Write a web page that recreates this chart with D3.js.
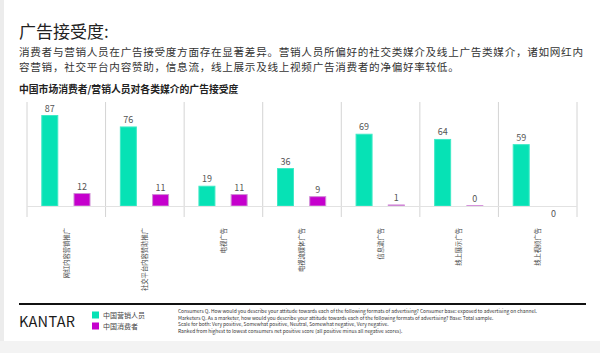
<!DOCTYPE html>
<html>
	<head>
		<meta charset="utf-8">
		<title>广告接受度</title>
		<style>
			body, html {
				margin: 0;
				padding: 0;
				background: #fff;
			}
			text {
				font-family: "Noto Sans CJK SC", "Liberation Sans", sans-serif;
			}
		</style>
	</head>
	<body>

		<svg id="svg" width="600" height="353"></svg>

		<script src="https://d3js.org/d3.v7.min.js"></script>
		<script>
			// Data
			const categories = ['网红内容营销推广', '社交平台内容赞助推广', '电视广告', '电视流媒体广告', '信息流广告', '线上展示广告', '线上视频广告']
			const seriesNames = ['中国营销人员', '中国消费者']
			const marketers = [87, 76, 19, 36, 69, 64, 59]
			const consumers = [12, 11, 11, 9, 1, 0.3, -0.3]
			const footnotes = [
				'Consumers Q. How would you describe your attitude towards each of the following formats of advertising? Consumer base: exposed to advertising on channel.',
				'Marketers Q. As a marketer, how would you describe your attitude towards each of the following formats of advertising? Base: Total sample.',
				'Scale for both: Very positive, Somewhat positive, Neutral, Somewhat negative, Very negative.',
				'Ranked from highest to lowest consumers net positive score (all positive minus all negative scores).'
			]

			const colors = ['#06e2b5', '#c500cd']
			const svg = d3.select('#svg')

			// light page edges
			svg.append('rect').attr('x', 0).attr('y', 0).attr('width', 4).attr('height', 353).attr('fill', '#ececec')
			svg.append('rect').attr('x', 0).attr('y', 341).attr('width', 600).attr('height', 12).attr('fill', '#f3f3f3')

			// Headings
			svg.append('text')
				.attr('x', 19).attr('y', 38)
				.attr('font-size', 17).attr('fill', '#222')
				.text('广告接受度:')

			// intro paragraph, two lines
			const intro = ['消费者与营销人员在广告接受度方面存在显著差异。营销人员所偏好的社交类媒介及线上广告类媒介，诸如网红内',
				'容营销，社交平台内容赞助，信息流，线上展示及线上视频广告消费者的净偏好率较低。']
			svg.append('text')
				.attr('font-size', 10.6).attr('letter-spacing', 0.7).attr('fill', '#333')
				.selectAll('tspan')
				.data(intro)
				.enter()
				.append('tspan')
				.attr('x', 19)
				.attr('y', (d, i) => 55.5 + i * 15.4)
				.text(d => d)

			svg.append('text')
				.attr('x', 19).attr('y', 93)
				.attr('font-size', 9.8).attr('font-weight', 'bold').attr('fill', '#222')
				.text('中国市场消费者/营销人员对各类媒介的广告接受度')

			// Scales
			const x = d3.scaleBand().domain(categories).range([27, 577])
			const bw = x.bandwidth()
			const xs = d3.scalePoint().domain(seriesNames).range([bw * 0.29, bw * 0.70])
			const y = d3.scaleLinear().domain([0, 100]).range([206, 102])
			const barW = 16

			// separators between categories
			const edges = categories.map(c => x(c)).concat([x(categories[categories.length - 1]) + bw])
			svg.append('g')
				.selectAll('line')
				.data(edges)
				.enter()
				.append('line')
				.attr('x1', d => d).attr('x2', d => d)
				.attr('y1', y(100)).attr('y2', y(0) + 11)
				.attr('stroke', '#d4d4d4').attr('stroke-width', 1)

			// bars
			const rows = []
			categories.forEach((c, i) => {
				rows.push({ cat: c, s: seriesNames[0], v: marketers[i], k: 0 })
				rows.push({ cat: c, s: seriesNames[1], v: consumers[i], k: 1 })
			})

			const bars = svg.append('g')
			bars.selectAll('rect')
				.data(rows)
				.enter()
				.append('rect')
				.attr('x', d => x(d.cat) + xs(d.s) - barW / 2)
				.attr('width', barW)
				.attr('y', d => y(Math.max(0, d.v)))
				.attr('height', d => Math.abs(y(d.v) - y(0)))
				.attr('fill', d => colors[d.k])
				.attr('stroke', d => d.v > 0 ? (d.k ? '#d08cd6' : '#3fe9c6') : 'none')
				.attr('stroke-width', d => d.v > 0 ? 1 : 0)

			// baseline drawn over the bars
			svg.append('line')
				.attr('x1', x.range()[0]).attr('x2', x.range()[1])
				.attr('y1', y(0) + 0.5).attr('y2', y(0) + 0.5)
				.attr('stroke', '#e2e2e2').attr('stroke-width', 1)

			// value labels
			bars.selectAll('text')
				.data(rows)
				.enter()
				.append('text')
				.attr('x', d => x(d.cat) + xs(d.s))
				.attr('y', d => d.v >= 0 ? y(d.v) - 4 : y(d.v) + 11)
				.attr('text-anchor', 'middle')
				.attr('font-family', 'Liberation Sans, sans-serif')
				.attr('font-size', 9).attr('fill', '#555')
				.text(d => String(Math.round(d.v)).replace('-', ''))

			// category labels, rotated
			svg.append('g')
				.selectAll('text')
				.data(categories)
				.enter()
				.append('text')
				.attr('transform', d => `translate(${x(d) + bw / 2}, 228) rotate(-90)`)
				.attr('text-anchor', 'end')
				.attr('dy', '0.35em')
				.attr('font-size', 6.3).attr('fill', '#444')
				.text(d => d)

			// footer rule
			svg.append('line')
				.attr('x1', 19).attr('x2', 586)
				.attr('y1', 304).attr('y2', 304)
				.attr('stroke', '#111').attr('stroke-width', 2)

			// logo
			svg.append('text')
				.attr('x', 19).attr('y', 327)
				.attr('font-family', 'Liberation Sans, sans-serif')
				.attr('font-size', 14.5).attr('letter-spacing', 0.3).attr('fill', '#1a1a1a')
				.text('KANTAR')

			// legend
			const legend = svg.append('g')
				.selectAll('g')
				.data(seriesNames)
				.enter()
				.append('g')
				.attr('transform', (d, i) => `translate(92, ${315 + i * 11})`)
			legend.append('rect')
				.attr('x', 0).attr('y', -3.5)
				.attr('width', 7).attr('height', 7)
				.attr('fill', (d, i) => colors[i])
			legend.append('text')
				.attr('x', 11).attr('y', 2.5)
				.attr('font-size', 7).attr('fill', '#444')
				.text(d => d)

			// footnotes
			svg.selectAll('.note')
				.data(footnotes)
				.enter()
				.append('text')
				.attr('class', 'note')
				.attr('x', 178)
				.attr('y', (d, i) => 313 + i * 6.5)
				.attr('font-family', 'Liberation Sans, sans-serif')
				.attr('font-size', 4.9).attr('fill', '#333')
				.text(d => d)
		</script>
	</body>
</html>
